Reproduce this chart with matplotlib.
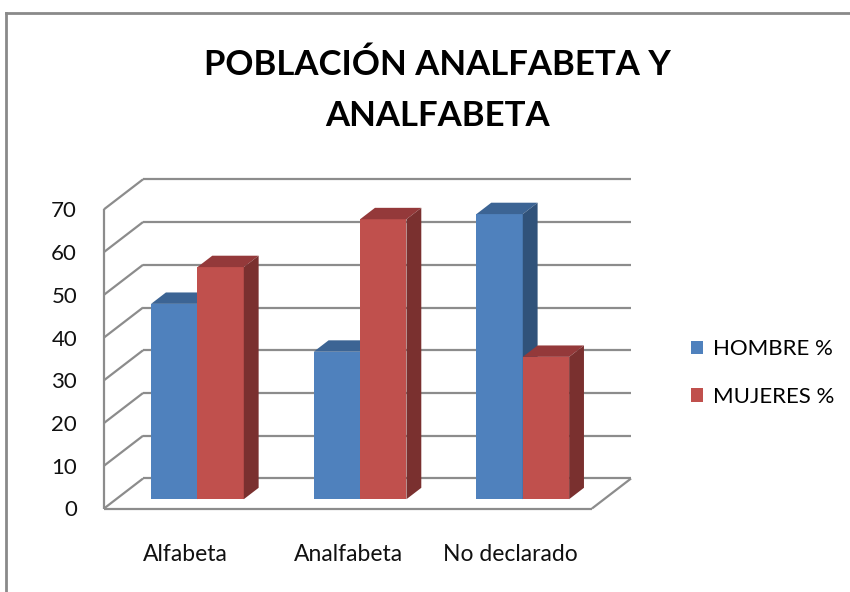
import matplotlib
matplotlib.use("Agg")
import matplotlib.pyplot as plt
from matplotlib.lines import Line2D
from matplotlib.patches import Polygon, Rectangle

CATEGORIES = ["Alfabeta", "Analfabeta", "No declarado"]
HOMBRE = [45.7, 34.5, 66.7]
MUJERES = [54.3, 65.5, 33.3]
SERIES = ["HOMBRE %", "MUJERES %"]
YTICKS = list(range(0, 80, 10))

# front / top / side shades, Excel 2007 look
BLUE = ("#4f81bd", "#3c6494", "#30527a")
RED = ("#c0504d", "#94393a", "#7a302f")
GRID = "#8c8c8c"

DEPTH_X, DEPTH_Y = 0.24, 7.02   # full floor depth, in data units
BAR_W = 0.285
Z0, Z1 = 0.31, 0.69             # bar front / back as a fraction of the depth

plt.rcParams["font.family"] = ["Lato", "DejaVu Sans"]


def shift(x, y, z):
    return x + z * DEPTH_X, y + z * DEPTH_Y


def box(ax, x0, x1, v, colors):
    front, top, side = colors
    faces = [
        ([(x0, 0, Z0), (x1, 0, Z0), (x1, v, Z0), (x0, v, Z0)], front),
        ([(x0, v, Z0), (x1, v, Z0), (x1, v, Z1), (x0, v, Z1)], top),
        ([(x1, 0, Z0), (x1, 0, Z1), (x1, v, Z1), (x1, v, Z0)], side),
    ]
    for pts, c in faces:
        ax.add_patch(Polygon([shift(*p) for p in pts], closed=True, fc=c,
                             ec="none", clip_on=False, zorder=3))


def line(ax, a, b):
    ax.plot([a[0], b[0]], [a[1], b[1]], color=GRID, lw=1.6,
            solid_capstyle="butt", clip_on=False, zorder=1)


def main():
    fig = plt.figure(figsize=(8.5, 5.92), dpi=100)
    ax = fig.add_axes([104 / 850, (592 - 508.5) / 592, 488 / 850, 299.2 / 592])
    left, right = -0.5, len(CATEGORIES) - 0.5
    ax.set_xlim(left, right)
    ax.set_ylim(0, 70)
    ax.patch.set_visible(False)
    for s in ax.spines.values():
        s.set_visible(False)

    # back wall, side wall and floor
    for v in YTICKS:
        line(ax, shift(left, v, 1), shift(right, v, 1))
        line(ax, (left, v), shift(left, v, 1))
    line(ax, (left, 0), (left, 70))
    line(ax, (left, 0), (right, 0))
    line(ax, (right, 0), shift(right, 0, 1))

    for i in range(len(CATEGORIES)):
        box(ax, i - BAR_W, i, HOMBRE[i], BLUE)
        box(ax, i, i + BAR_W, MUJERES[i], RED)

    ax.set_yticks(YTICKS)
    ax.set_xticks(range(len(CATEGORIES)), CATEGORIES)
    ax.tick_params(axis="y", length=0, pad=19.4, labelsize=16, labelcolor="#111")
    ax.tick_params(axis="x", length=0, pad=25.5, labelsize=16.5, labelcolor="#111")

    handles = [Rectangle((0, 0), 1, 1, fc=BLUE[0]), Rectangle((0, 0), 1, 1, fc=RED[0])]
    fig.legend(handles, SERIES, loc="center left",
               bbox_to_anchor=(691 / 850, 1 - 373 / 592), frameon=False,
               fontsize=16, handlelength=0.54, handleheight=0.54,
               handletextpad=0.45, labelspacing=1.25, borderpad=0,
               borderaxespad=0)

    fig.text(437 / 850, 1 - 75 / 592, "POBLACIÓN ANALFABETA Y", ha="center",
             va="baseline", fontsize=25, fontweight="bold")
    fig.text(437 / 850, 1 - 125.5 / 592, "ANALFABETA", ha="center",
             va="baseline", fontsize=25, fontweight="bold")

    # chart-area border (runs off the right and bottom edges)
    fx, fy = 6 / 850, 1 - 13 / 592
    fig.add_artist(Line2D([fx, fx], [-0.05, fy], transform=fig.transFigure,
                          color="#8a8a8a", lw=2))
    fig.add_artist(Line2D([fx, 1.05], [fy, fy], transform=fig.transFigure,
                          color="#8a8a8a", lw=2))
    fig.savefig("out.png", dpi=100)


if __name__ == "__main__":
    main()
